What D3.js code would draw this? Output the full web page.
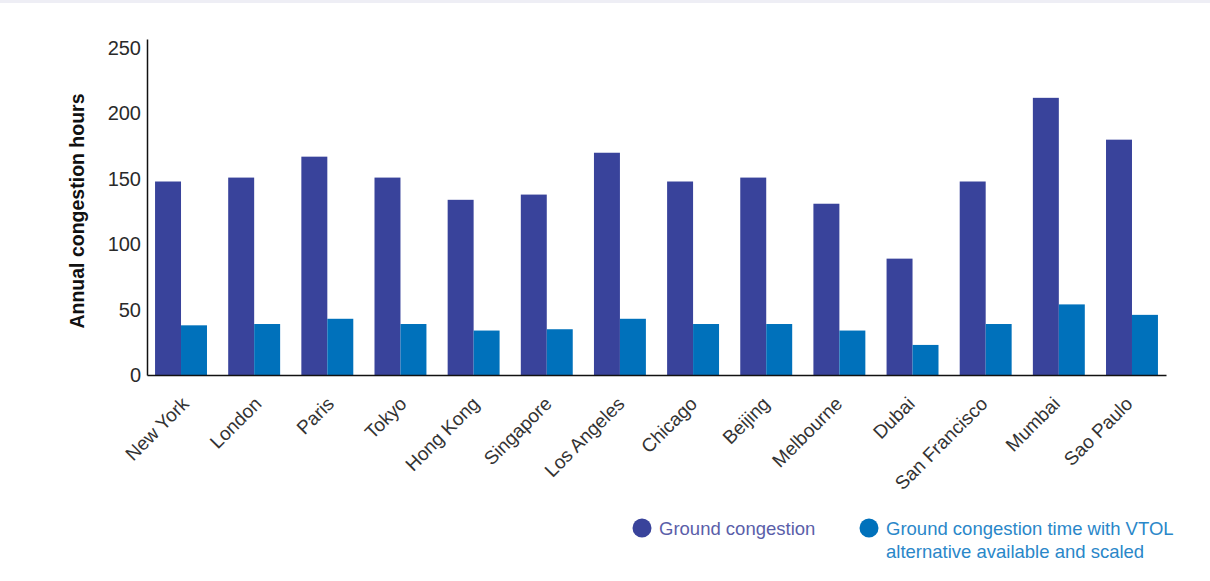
<!DOCTYPE html>
<html>
<head>
<meta charset="utf-8">
<script src="https://cdn.jsdelivr.net/npm/d3@7"></script>
<style>
  body { margin: 0; background: #fff; font-family: "Liberation Sans", Arial, sans-serif; }
  .topband { height: 3px; background: #eeeef5; }
</style>
</head>
<body>
<div class="topband"></div>
<div id="chart"></div>
<script>
const cities = ["New York", "London", "Paris", "Tokyo", "Hong Kong", "Singapore", "Los Angeles",
  "Chicago", "Beijing", "Melbourne", "Dubai", "San Francisco", "Mumbai", "Sao Paulo"];
const ground = [148, 151, 167, 151, 134, 138, 170, 148, 151, 131, 89, 148, 212, 180];
const vtol = [38, 39, 43, 39, 34, 35, 43, 39, 39, 34, 23, 39, 54, 46];
const seriesNames = ["Ground congestion", "Ground congestion time with VTOL alternative available and scaled"];
const yTicks = [0, 50, 100, 150, 200, 250];

const colors = ["#39439b", "#0071bb"];
const legendText = ["#5a5ea9", "#2a87c9"];

const w = 1210, h = 578;
const plotLeft = 147, plotRight = 1166, plotTop = 36, plotBottom = 372;
const font = "'Liberation Sans', Arial, sans-serif";

const svg = d3.select("#chart").append("svg")
  .attr("width", w)
  .attr("height", h);

const x0 = d3.scaleBand()
  .domain(cities)
  .range([plotLeft, plotRight])
  .paddingInner(0.29)
  .paddingOuter(0.11);

const x1 = d3.scaleBand()
  .domain([0, 1])
  .range([0, x0.bandwidth()]);

const y = d3.scaleLinear()
  .domain([0, 257])
  .range([plotBottom, plotTop]);

const data = cities.map((c, i) => ({ city: c, values: [ground[i], vtol[i]] }));

// bars
const groups = svg.selectAll("g.group")
  .data(data)
  .enter()
  .append("g")
  .attr("class", "group")
  .attr("transform", d => "translate(" + x0(d.city) + ",0)");

groups.selectAll("rect")
  .data(d => d.values)
  .enter()
  .append("rect")
  .attr("x", (d, i) => x1(i))
  .attr("width", x1.bandwidth())
  .attr("y", d => y(d))
  .attr("height", d => y(0) - y(d))
  .attr("fill", (d, i) => colors[i]);

// axes
const xAxis = d3.axisBottom(x0).tickSize(0).tickSizeOuter(0);
const gx = svg.append("g")
  .attr("transform", "translate(0," + plotBottom + ")")
  .call(xAxis);
gx.select(".domain").attr("stroke", "#111").attr("stroke-width", 1.5);
gx.selectAll("text")
  .attr("y", 0)
  .attr("dy", 0)
  .attr("transform", (d, i) => "translate(" + (9 - i * 0.55) + ",30) rotate(-45)")
  .attr("text-anchor", "end")
  .attr("fill", "#333")
  .style("font-size", "19px")
  .style("font-family", font);

const yAxis = d3.axisLeft(y).tickValues(yTicks).tickSize(0).tickSizeOuter(0).tickPadding(6);
const gy = svg.append("g")
  .attr("transform", "translate(" + plotLeft + ",0)")
  .call(yAxis);
gy.select(".domain").attr("stroke", "#111").attr("stroke-width", 1.5);
gy.selectAll("text")
  .attr("fill", "#2a2a2a")
  .style("font-size", "20px")
  .style("font-family", font);

svg.append("text")
  .attr("transform", "translate(84," + ((plotTop + plotBottom) / 2 + 4) + ") rotate(-90)")
  .attr("text-anchor", "middle")
  .attr("fill", "#111")
  .style("font-size", "19.5px")
  .style("font-weight", "bold")
  .style("font-family", font)
  .text("Annual congestion hours");

// legend
const legend = svg.append("g").attr("id", "legend");
const legendItems = [
  { cx: 642, lines: [seriesNames[0]] },
  { cx: 869, lines: ["Ground congestion time with VTOL", "alternative available and scaled"] }
];
legendItems.forEach((item, i) => {
  legend.append("circle")
    .attr("cx", item.cx)
    .attr("cy", 525)
    .attr("r", 9.5)
    .attr("fill", colors[i]);
  const t = legend.append("text")
    .attr("x", item.cx + 18)
    .attr("y", 532)
    .attr("fill", legendText[i])
    .style("font-size", "18.5px")
    .style("font-family", font);
  item.lines.forEach((line, j) => {
    t.append("tspan")
      .attr("x", item.cx + 17)
      .attr("dy", j === 0 ? 0 : 23)
      .text(line);
  });
});
</script>
</body>
</html>
